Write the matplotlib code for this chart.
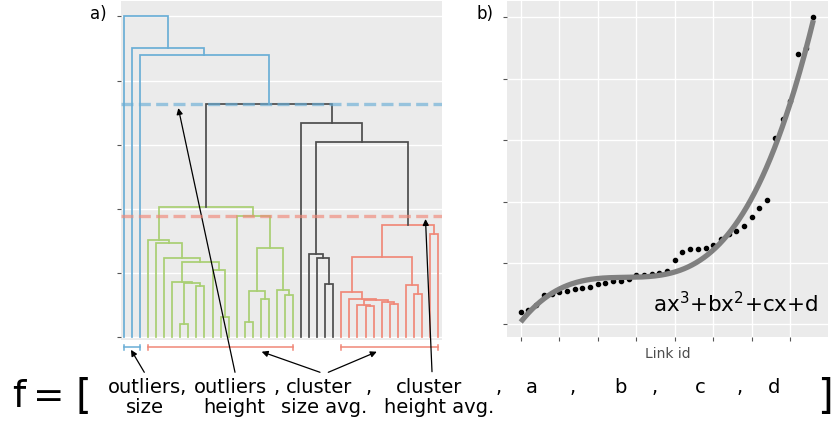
import numpy as np
import matplotlib.pyplot as plt

# dendrogram: leaves 0..39 in plotting order, merge k gets node id 40 + k
n_leaves = 40
merge_left = [7, 15, 12, 9, 40, 6, 11, 45, 5, 4, 3, 17, 41, 20, 19, 52, 14, 50,
              25, 24, 23,
              30, 29, 33, 32, 62, 28, 27, 36, 35, 67, 38, 70,
              60, 22, 57, 2, 1, 0]
merge_right = [8, 16, 13, 10, 43, 44, 42, 46, 47, 48, 49, 18, 51, 21, 53, 54, 55, 56,
               26, 58, 59,
               31, 61, 34, 63, 64, 65, 66, 37, 68, 69, 39, 71,
               72, 73, 74, 75, 76, 77]
merge_height = [0.20, 0.23, 0.31, 0.80, 0.84, 0.86, 1.04, 1.17, 1.23, 1.47, 1.52,
                0.60, 0.71, 0.65, 0.73, 1.39, 1.89, 2.03,
                0.82, 1.23, 1.29,
                0.48, 0.50, 0.52, 0.55, 0.57, 0.59, 0.70, 0.67, 0.81, 1.25, 1.60, 1.75,
                3.04, 3.34, 3.63, 4.40, 4.50, 5.00]
merge_group = ['cluster1'] * 18 + ['link'] * 3 + ['cluster2'] * 12 + ['link'] * 3 + ['outlier'] * 3

cut_height = [3.63, 1.89]
cut_group = ['outlier', 'cluster2']

bracket_start = [0, 3, 27]
bracket_end = [2, 21, 39]
bracket_group = ['outlier', 'cluster2', 'cluster2']

line1 = ['outliers,', 'outliers', ',', 'cluster', ',', 'cluster', ',', 'a', ',', 'b', ',', 'c', ',', 'd']
line2 = ['size', 'height', 'size avg.', 'height avg.']

colors = {'cluster1': '#A9CF72', 'cluster2': '#F08878', 'link': '#4D4D4D', 'outlier': '#6AAED6'}
W, H = 832, 421


def fx(px):
    return px / W


def fy(py):
    return 1 - py / H


fig = plt.figure(figsize=(8.32, 4.21), dpi=100)
ax = fig.add_axes([fx(121), fy(340), 321 / W, 339 / H])
bx = fig.add_axes([fx(507), fy(337), 321 / W, 336 / H])

for a in (ax, bx):
    a.set_facecolor('#EBEBEB')
    for s in a.spines.values():
        s.set_visible(False)
    a.set_axisbelow(True)
    a.tick_params(length=3, width=0.8, color='#555555', labelleft=False, labelbottom=False)

# --- a) dendrogram
node_x = list(range(n_leaves))
node_h = [0.0] * n_leaves
for l, r, h, g in zip(merge_left, merge_right, merge_height, merge_group):
    ax.plot([node_x[l], node_x[l], node_x[r], node_x[r]],
            [node_h[l], h, h, node_h[r]], color=colors[g], lw=1.25, solid_joinstyle='miter')
    node_x.append((node_x[l] + node_x[r]) / 2)
    node_h.append(h)

for h, g in zip(cut_height, cut_group):
    ax.axhline(h, color=colors[g], lw=2.4, alpha=0.65, dashes=(3.6, 1.6), zorder=5)

for s, e, g in zip(bracket_start, bracket_end, bracket_group):
    yb = -0.16
    ax.plot([s, e], [yb, yb], color=colors[g], lw=1.1, clip_on=False)
    ax.plot([s, s], [yb - 0.04, yb + 0.04], color=colors[g], lw=1.1, clip_on=False)
    ax.plot([e, e], [yb - 0.04, yb + 0.04], color=colors[g], lw=1.1, clip_on=False)

ax.set_xlim(-0.37, 39.5)
ax.set_ylim(-0.047, 5.24)
ax.set_xticks([])
ax.set_yticks(range(6))
ax.grid(axis='y', color='white', lw=1.0)

# --- b) sorted link heights with cubic fit
link_id = np.arange(len(merge_height))
link_h = np.sort(merge_height)
coef = np.polyfit(link_id, link_h, 3)
xs = np.linspace(link_id[0], link_id[-1], 300)
bx.plot(link_id, link_h, 'o', color='black', ms=3, zorder=3)
bx.plot(xs, np.polyval(coef, xs), color='#808080', lw=3.8, zorder=4, solid_capstyle='butt')
bx.set_xlim(-1.78, 39.9)
bx.set_ylim(-0.207, 5.266)
bx.set_xticks(range(0, 40, 5))
bx.set_yticks(range(6))
bx.grid(True, color='white', lw=1.0)
bx.text(0.97, 0.075, r'ax$^3$+bx$^2$+cx+d', transform=bx.transAxes, ha='right', va='baseline',
        fontsize=15.5)
fig.text(fx(667.5), fy(354), 'Link id', ha='center', va='center', fontsize=10, color='#4D4D4D')

fig.text(fx(98), fy(14), 'a)', ha='center', va='center', fontsize=12)
fig.text(fx(485), fy(14), 'b)', ha='center', va='center', fontsize=12)

# --- feature vector text
x1 = [147.5, 230.5, 277, 319, 368.5, 429.5, 498.7, 532, 573, 620, 654.7, 700, 740, 774]
x2 = [145, 234, 324, 439]
for s, x in zip(line1, x1):
    fig.text(fx(x), fy(393.3), s, ha='center', va='baseline', fontsize=14)
for s, x in zip(line2, x2):
    fig.text(fx(x), fy(412.7), s, ha='center', va='baseline', fontsize=14)
fig.text(fx(19), fy(407), 'f', ha='center', va='baseline', fontsize=27)
fig.text(fx(49), fy(407), '=', ha='center', va='baseline', fontsize=27)
fig.text(fx(83), fy(408), '[', ha='center', va='baseline', fontsize=29)
fig.text(fx(825), fy(408), ']', ha='center', va='baseline', fontsize=29)

# --- arrows from the text to the parts of the dendrogram
arrows = [((0.87, -0.20), (144.3, 372.3)),
          ((6.75, 3.57), (235, 372.3)),
          ((17.1, -0.23), (320, 372.3)),
          ((31.4, -0.23), (328.3, 372.3)),
          ((37.45, 1.84), (432, 371.7))]
for head, tail in arrows:
    ax.annotate('', xy=head, xycoords='data', xytext=(tail[0], H - tail[1]),
                textcoords='figure pixels', annotation_clip=False,
                arrowprops=dict(arrowstyle='-|>', lw=0.9, color='black',
                                shrinkA=0, shrinkB=0, mutation_scale=9))

fig.savefig('out.png', dpi=100)
